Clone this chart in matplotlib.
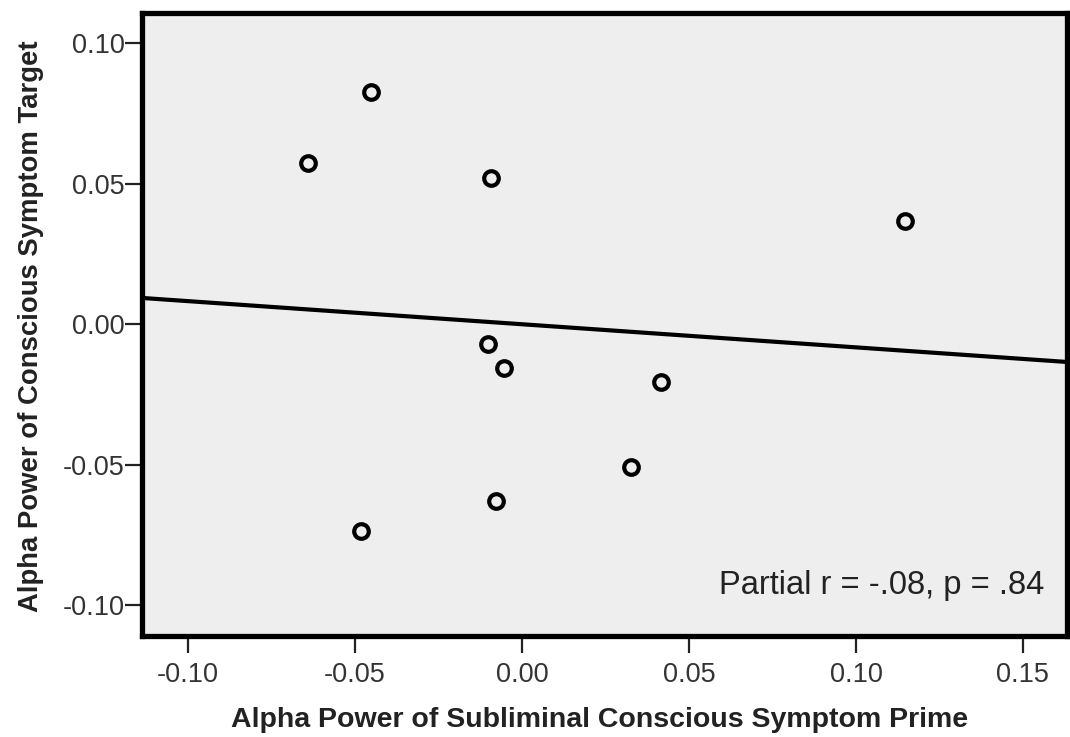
import matplotlib
matplotlib.use("Agg")
import matplotlib.pyplot as plt
import numpy as np

prime_alpha = [-0.0452, -0.0641, -0.0093, 0.1147, -0.0102, -0.0054, 0.0416, 0.0326, -0.0078, -0.0482]
target_alpha = [0.0826, 0.0573, 0.0520, 0.0367, -0.0071, -0.0157, -0.0207, -0.0509, -0.0630, -0.0737]
fit_slope = -0.0823
fit_intercept = 0.0
x_ticks = [-0.10, -0.05, 0.00, 0.05, 0.10, 0.15]
y_ticks = [-0.10, -0.05, 0.00, 0.05, 0.10]
annotation = "Partial r = -.08, p = .84"
x_label = "Alpha Power of Subliminal Conscious Symptom Prime"
y_label = "Alpha Power of Conscious Symptom Target"

plt.rcParams['font.family'] = ['Liberation Sans', 'DejaVu Sans']

fig = plt.figure(figsize=(10.7, 7.37), dpi=100)
ax = fig.add_axes([142/1070, 1-636/737, (1067-142)/1070, (636-12.5)/737])
ax.set_facecolor('#eeeeee')

xlim = (-0.1138, 0.1632)
ylim = (-0.111, 0.111)
ax.set_xlim(*xlim)
ax.set_ylim(*ylim)

xs = np.array(xlim)
ax.plot(xs, fit_intercept + fit_slope * xs, color='black', lw=3.0, zorder=2, solid_capstyle='butt')
ax.plot(prime_alpha, target_alpha, linestyle='none', marker='o', markersize=10.5,
        markerfacecolor='none', markeredgecolor='black', markeredgewidth=3.0, zorder=3)

ax.set_xticks(x_ticks)
ax.set_xticklabels([f"{v:.2f}" for v in x_ticks])
ax.set_yticks(y_ticks)
ax.set_yticklabels([f"{v:.2f}" for v in y_ticks])
ax.tick_params(direction='out', length=12, width=1.6, color='#222222',
               labelsize=19.5, labelcolor='#333333')
ax.tick_params(axis='y', pad=0.5)
ax.tick_params(axis='x', pad=7)

for s in ax.spines.values():
    s.set_linewidth(3.8)
    s.set_color('black')

ax.set_xlabel(x_label, fontsize=20.5, fontweight='bold', color='#222222')
ax.xaxis.set_label_coords((600-142)/925, (636-707)/623.5)
ax.set_ylabel(y_label, fontsize=19.8, fontweight='bold', color='#222222')
ax.yaxis.label.set_verticalalignment('center')
ax.yaxis.set_label_coords((31-142)/925, 0.497)

ax.text(0.1565, -0.0930, annotation, ha='right', va='center', fontsize=23.5, color='#222222')

fig.savefig("out.png", dpi=100)
